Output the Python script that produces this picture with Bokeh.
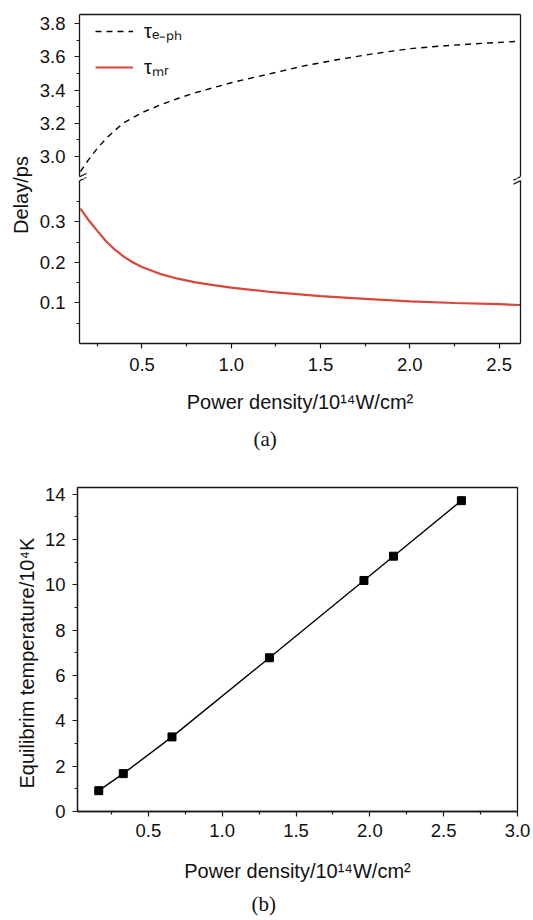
import math
from bokeh.plotting import figure
from bokeh.models import (Range1d, LinearAxis, FixedTicker, Legend, LegendItem,
                          Label, Arrow, Title, NumeralTickFormatter)
from bokeh.layouts import column, row
from bokeh.embed import file_html
from bokeh.resources import INLINE

# ---------------- data ----------------
power_eph = [0.155, 0.20, 0.25, 0.30, 0.35, 0.40, 0.50, 0.60, 0.70, 0.80, 0.90,
             1.00, 1.20, 1.40, 1.60, 1.80, 2.00, 2.20, 2.40, 2.62]
tau_eph = [2.91, 2.98, 3.05, 3.11, 3.16, 3.205, 3.265, 3.31, 3.35, 3.385, 3.415,
           3.445, 3.495, 3.545, 3.585, 3.62, 3.65, 3.668, 3.682, 3.695]

power_mr = [0.155, 0.20, 0.25, 0.30, 0.35, 0.40, 0.45, 0.50, 0.60, 0.70, 0.80,
            0.90, 1.00, 1.25, 1.50, 1.75, 2.00, 2.25, 2.50, 2.62]
tau_mr = [0.333, 0.305, 0.278, 0.252, 0.231, 0.214, 0.200, 0.189, 0.172, 0.160,
          0.151, 0.144, 0.138, 0.126, 0.117, 0.110, 0.104, 0.100, 0.097, 0.095]

power_b = [0.164, 0.33, 0.66, 1.32, 1.96, 2.16, 2.62]
temp_b = [0.92, 1.67, 3.29, 6.78, 10.19, 11.26, 13.71]

xticks_a = [0.5, 1.0, 1.5, 2.0, 2.5]
xminor_a = [0.25, 0.75, 1.25, 1.75, 2.25]
yticks_low = [0.1, 0.2, 0.3]
yminor_low = [0.05, 0.15, 0.25, 0.35]
yticks_up = [3.0, 3.2, 3.4, 3.6, 3.8]
yminor_up = [3.1, 3.3, 3.5, 3.7]
xticks_b = [0.5, 1.0, 1.5, 2.0, 2.5, 3.0]
xminor_b = [0.25, 0.75, 1.25, 1.75, 2.25, 2.75]
yticks_b = [0, 2, 4, 6, 8, 10, 12, 14]
yminor_b = [1, 3, 5, 7, 9, 11, 13]

# ---------------- style ----------------
FONT = "Liberation Sans"
SERIF = "Liberation Serif"
AX = "#1a1a1a"
TXT = "#111111"
RED = "#d9463a"
TICK_FS = "18.5px"
LAB_FS = "20px"

def style_axis(ax, labels=True):
    ax.axis_line_color = AX
    ax.axis_line_width = 1.3
    ax.major_tick_line_color = AX
    ax.minor_tick_line_color = AX
    ax.major_tick_line_width = 1.2
    ax.minor_tick_line_width = 1.2
    ax.major_tick_in = 0
    ax.major_tick_out = 5
    ax.minor_tick_in = 0
    ax.minor_tick_out = 3
    ax.major_label_text_font = FONT
    ax.major_label_text_font_size = TICK_FS if labels else "0px"
    ax.major_label_text_color = TXT
    ax.major_label_standoff = 9
    ax.axis_label_text_font = FONT
    ax.axis_label_text_font_size = LAB_FS
    ax.axis_label_text_font_style = "normal"
    ax.axis_label_text_color = TXT

def bare_axis(**kw):
    ax = LinearAxis(ticker=FixedTicker(ticks=[], minor_ticks=[]), **kw)
    style_axis(ax, labels=False)
    ax.major_label_standoff = 0
    return ax

def base_fig(**kw):
    f = figure(output_backend="svg", toolbar_location=None,
               x_axis_location=None, y_axis_location=None, **kw)
    f.grid.visible = False
    f.outline_line_color = None
    f.background_fill_color = "white"
    f.border_fill_color = "white"
    return f

# ---------------- panel (a): broken y axis, two stacked frames ----------------
XA0, XA1 = 0.15, 2.62
UP0, UP1 = 2.868, 3.856          # upper frame: y 14 .. 178 px
LOW0, LOW1 = 0.0, 0.4074         # lower frame: y 178 .. 343 px
UP_BREAK, LOW_BREAK = 2.878, 0.402
LAB_W = 36

xr_a = Range1d(XA0, XA1)

ua = base_fig(width=533 - LAB_W, height=178, x_range=xr_a, y_range=Range1d(UP0, UP1),
              min_border_left=77 - LAB_W, min_border_right=13, min_border_top=14,
              min_border_bottom=0)
la = base_fig(width=533 - LAB_W, height=287, x_range=xr_a, y_range=Range1d(LOW0, LOW1),
              min_border_left=77 - LAB_W, min_border_right=13, min_border_top=0,
              min_border_bottom=122)

ax_up = LinearAxis(bounds=(UP_BREAK, UP1), formatter=NumeralTickFormatter(format="0.0"),
                   ticker=FixedTicker(ticks=yticks_up, minor_ticks=yminor_up))
style_axis(ax_up)
ua.add_layout(ax_up, "left")
ua.add_layout(bare_axis(bounds=(UP_BREAK, UP1)), "right")
ua.add_layout(bare_axis(), "above")

ax_low = LinearAxis(bounds=(LOW0, LOW_BREAK), formatter=NumeralTickFormatter(format="0.0"),
                    ticker=FixedTicker(ticks=yticks_low, minor_ticks=yminor_low))
style_axis(ax_low)
la.add_layout(ax_low, "left")
la.add_layout(bare_axis(bounds=(LOW0, LOW_BREAK)), "right")

ax_bot = LinearAxis(ticker=FixedTicker(ticks=xticks_a, minor_ticks=xminor_a),
                    formatter=NumeralTickFormatter(format="0.0"),
                    axis_label="Power density/10¹⁴W/cm²")
style_axis(ax_bot)
ax_bot.axis_label_standoff = 17
la.add_layout(ax_bot, "below")

r_eph = ua.line(power_eph, tau_eph, line_color="black", line_dash="6 5", line_width=1.4)
r_mr = la.line(power_mr, tau_mr, line_color=RED, line_width=2.2)

# legend for both curves, drawn in the upper frame
r_mr_key = ua.line(power_mr, tau_mr, line_color=RED, line_width=2.2, visible=False)
legend = Legend(items=[LegendItem(label="τₑ₋ₚₕ", renderers=[r_eph]),
                       LegendItem(label="τₘᵣ", renderers=[r_mr_key])],
                location=(16, 98), border_line_color=None, background_fill_alpha=0,
                glyph_width=38, glyph_height=20, label_height=20, spacing=9,
                padding=0, margin=0, label_standoff=11,
                label_text_font=FONT, label_text_font_size="20px", label_text_color=TXT)
ua.add_layout(legend)

# break marks ("//") where the two frames meet
def y_up(py):
    return UP1 - (py - 14) * (UP1 - UP0) / 164.0

def y_low(py):
    return LOW1 - (py - 178) * (LOW1 - LOW0) / 165.0

px_x = (XA1 - XA0) / 443.0
for fig, conv in ((ua, y_up), (la, y_low)):
    for xc in (XA0, XA1):
        for (py0, py1) in ((179.6, 173.0), (183.6, 177.0)):
            fig.add_layout(Arrow(start=None, end=None,
                                 x_start=xc - 7 * px_x, y_start=conv(py0),
                                 x_end=xc + 7 * px_x, y_end=conv(py1),
                                 line_color=AX, line_width=1.3))

la.add_layout(Title(text="(a)", align="left", offset=174, standoff=18,
                    text_font=SERIF, text_font_size="21px", text_font_style="normal",
                    text_color=TXT), "below")

# narrow strip carrying the shared y-axis title of panel (a)
lab = base_fig(width=LAB_W, height=465, x_range=Range1d(0, LAB_W), y_range=Range1d(0, 465),
               min_border=0)
lab.add_layout(Label(x=20, y=465 - 194.5, text="Delay/ps", angle=math.pi / 2,
                     text_align="center", text_baseline="middle",
                     text_font=FONT, text_font_size=LAB_FS, text_color=TXT))

# ---------------- panel (b) ----------------
pb = base_fig(width=533, height=455, x_range=Range1d(0.02, 3.0), y_range=Range1d(0, 14.29),
              min_border_left=77, min_border_right=16, min_border_top=22, min_border_bottom=107)
pb.outline_line_color = AX
pb.outline_line_width = 1.3

bx = LinearAxis(ticker=FixedTicker(ticks=xticks_b, minor_ticks=xminor_b),
                formatter=NumeralTickFormatter(format="0.0"),
                axis_label="Power density/10¹⁴W/cm²")
style_axis(bx)
bx.major_label_standoff = 7
bx.axis_label_standoff = 20
pb.add_layout(bx, "below")
by = LinearAxis(ticker=FixedTicker(ticks=yticks_b, minor_ticks=yminor_b))
style_axis(by)
by.major_label_standoff = 7
pb.add_layout(by, "left")

pb.line(power_b, temp_b, line_color="black", line_width=1.4)
pb.scatter(power_b, temp_b, marker="square", size=8, fill_color="black", line_color="black")

pb.add_layout(Title(text="Equilibrim temperature/10⁴K", align="left", offset=23, standoff=8,
                    text_font=FONT, text_font_size=LAB_FS, text_font_style="normal",
                    text_color=TXT), "left")
pb.add_layout(Title(text="(b)", align="left", offset=174, standoff=10,
                    text_font=SERIF, text_font_size="21px", text_font_style="normal",
                    text_color=TXT), "below")

layout = column(row(lab, column(ua, la, spacing=0), spacing=0), pb, spacing=0)
open("out.html", "w").write(file_html(layout, INLINE))
